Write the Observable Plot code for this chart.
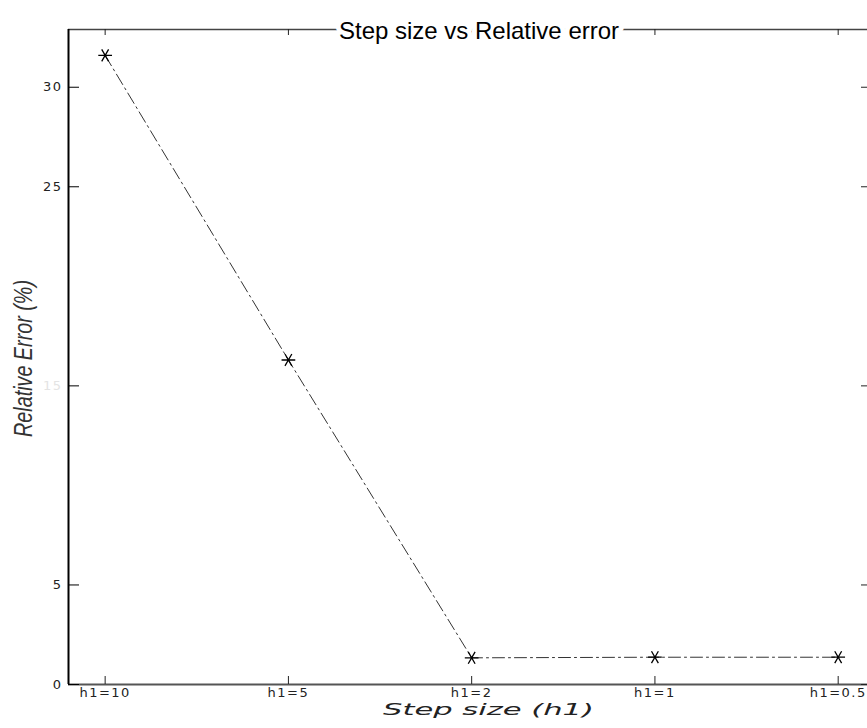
<!DOCTYPE html>
<html>
<head>
<meta charset="utf-8">
<script src="https://cdn.jsdelivr.net/npm/d3@7"></script>
<script src="https://cdn.jsdelivr.net/npm/@observablehq/plot@0.6"></script>
<style>
  html, body { margin: 0; padding: 0; background: #fff; overflow: hidden; }
  svg { display: block; }
  g[aria-label="x-axis tick label"] text,
  g[aria-label="y-axis tick label"] text { letter-spacing: 1.5px; }
</style>
</head>
<body>
<div id="chart"></div>
<script>
// ---- data ----
const categories = ["h1=10", "h1=5", "h1=2", "h1=1", "h1=0.5"];
const relError = [31.6, 16.3, 1.34, 1.37, 1.37];
const yTickValues = [0, 5, 15, 25, 30];
const yTickLabelled = [0, 5, 25, 30];
const yTickFaint = [15];
const titleText = "Step size vs Relative error";
const xLabel = "Step size (h1)";
const yLabel = "Relative Error (%)";

const xIdx = categories.map((c, i) => i + 1);
const data = categories.map((c, i) => ({i: i + 1, label: c, err: relError[i]}));
const xDomain = [0.8, 5.16];
const yDomain = [0, 32.9];

const W = 867, H = 728, mL = 68, mR = 0, mT = 29, mB = 44;
const fw = W - mL - mR, fh = H - mT - mB;

const plot = Plot.plot({
  width: W, height: H,
  marginLeft: mL, marginRight: mR, marginTop: mT, marginBottom: mB,
  style: {fontFamily: "'DejaVu Sans', sans-serif", background: "#fff"},
  x: {domain: xDomain, axis: null},
  y: {domain: yDomain, axis: null},
  marks: [
    // frame lines
    Plot.ruleY([yDomain[1]], {stroke: "#444", strokeWidth: 1.5}),
    Plot.ruleY([yDomain[0]], {stroke: "#555", strokeWidth: 2}),
    Plot.ruleX([xDomain[0]], {stroke: "#000", strokeWidth: 2}),
    // inward tick marks
    Plot.tickY(yTickValues, {y: d => d, insetRight: fw - 11, stroke: "#000"}),
    Plot.tickY(yTickValues, {y: d => d, insetLeft: fw - 6, stroke: "#222"}),
    Plot.tickX(xIdx, {x: d => d, insetTop: fh - 8, stroke: "#222"}),
    Plot.tickX(xIdx, {x: d => d, insetBottom: fh - 6, stroke: "#222"}),
    // tick labels
    Plot.axisY(yTickLabelled, {tickSize: 0, tickPadding: 6, fontSize: 13, fill: "#222", label: null}),
    Plot.axisY(yTickFaint, {tickSize: 0, tickPadding: 6, fontSize: 13, fill: "#e4e4e4", label: null}),
    Plot.axisX(xIdx, {tickSize: 0, tickPadding: 3, fontSize: 13, fill: "#222", label: null,
                      tickFormat: d => categories[d - 1]}),
    // data
    Plot.line(data, {x: "i", y: "err", stroke: "#333", strokeWidth: 1, strokeDasharray: "12,4,2,4"}),
    Plot.dot(data, {x: "i", y: "err", symbol: "asterisk", rotate: 90, r: 6.5, stroke: "#000", strokeWidth: 1.3}),
    // title with white box over the top frame line
    Plot.text([titleText], {frameAnchor: "top", dx: 11, dy: -8, fontSize: 24,
      fontFamily: "'Liberation Sans', Arial, sans-serif", fill: "#000",
      stroke: "white", strokeWidth: 10, paintOrder: "stroke"}),
    // axis titles
    Plot.text([xLabel], {frameAnchor: "bottom", textAnchor: "start", dx: -85, dy: 30, fontSize: 15,
      fontStyle: "italic", fontFamily: "'DejaVu Sans', sans-serif", fill: "#222"}),
    Plot.text([yLabel], {frameAnchor: "left", textAnchor: "start", dx: -45, dy: 80, rotate: -90, fontSize: 26,
      fontStyle: "italic", fontFamily: "'Liberation Sans', Arial, sans-serif", fill: "#333"})
  ]
});

const svg = d3.select(plot);
svg.selectAll("text").filter(function() { return this.textContent === yLabel; })
  .attr("textLength", 157).attr("lengthAdjust", "spacingAndGlyphs");
svg.selectAll("text").filter(function() { return this.textContent === xLabel; })
  .attr("textLength", 211).attr("lengthAdjust", "spacingAndGlyphs");

document.getElementById("chart").append(plot);
</script>
</body>
</html>
